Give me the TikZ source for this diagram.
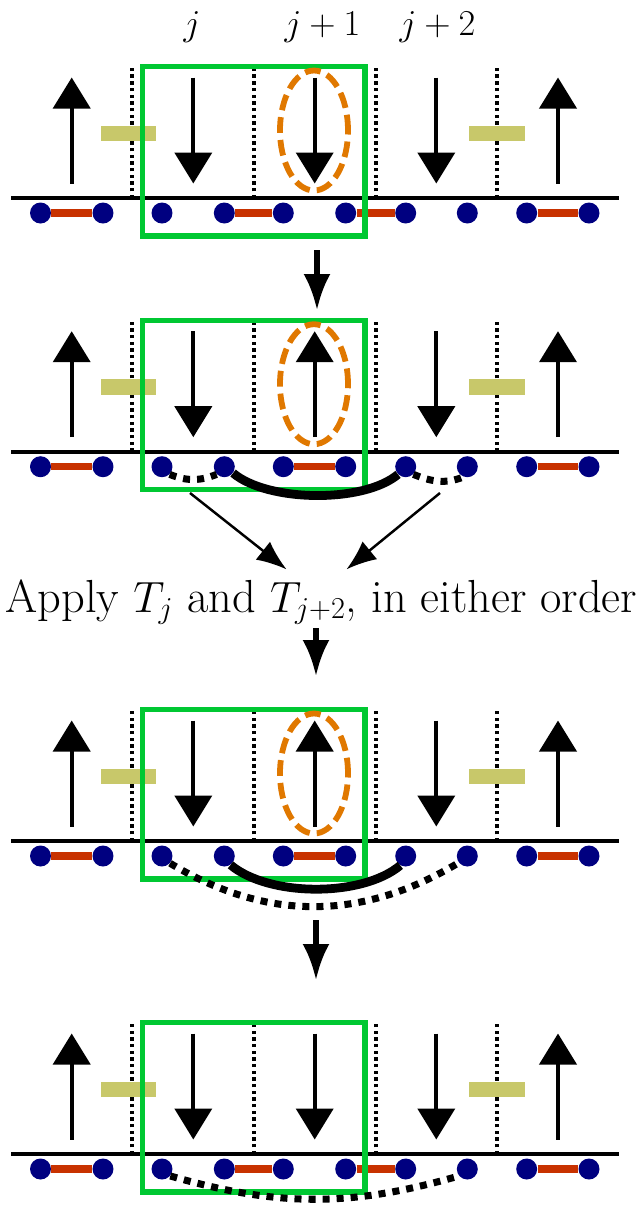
\documentclass[tikz,border=0pt]{standalone}
\usepackage{fontspec}
\usepackage{amsmath}
\usepackage{xcolor}
\usepackage{tikz}
\usetikzlibrary{arrows.meta}
\definecolor{navycol}{RGB}{0,0,128}
\definecolor{bondcol}{RGB}{200,50,0}
\definecolor{boxcol}{RGB}{0,200,50}
\definecolor{ringcol}{RGB}{224,120,0}
\definecolor{barcol}{RGB}{200,200,106}

% one row of the chain: #1 name prefix, #2 height of its line,
% #3 spin j+1 (1 up, -1 down), #4 bonded pairs of dots
\newcommand{\spinchain}[4]{%
  \begin{scope}[shift={(0,-#2)}, name prefix=#1-]
    \draw[chainline] (11,0) -- (619,0);
    \foreach \x in {132,254,375.7,497}
      \draw[sep] (\x,0) -- (\x,132);
    \fill[barcol] (100.7,56.7) rectangle (156,72.3);
    \fill[barcol] (469,56.7) rectangle (525.3,72.3);
    \foreach \x/\s in {71.7/1,193.3/-1,314.7/#3,436.3/-1,558/1}
      \draw[spin] (\x,{67.5-53*\s}) -- (\x,{67.5+53*\s});
    \foreach \x [count=\i from 0] in {40.5,103,162,224.3,283.3,345.7,405.7,467.3,526.7,589}
      \node[majo] (d\i) at (\x,-15) {};
    \foreach \a/\b in {#4}
      \draw[bond] (d\a) -- (d\b);
    \draw[gbox] (142.5,131.5) rectangle (365,-38);
  \end{scope}}

\begin{document}
\begin{tikzpicture}[x=0.02cm, y=0.02cm,
    chainline/.style={line width=2.3pt},
    sep/.style={line width=2.1pt, dash pattern=on 1.9pt off 1.9pt},
    spin/.style={line width=2.3pt, -{Triangle[length=0.62cm,width=0.74cm]}},
    majo/.style={circle, fill=navycol, inner sep=0pt, minimum size=0.42cm},
    bond/.style={draw=bondcol, line width=4.2pt},
    gbox/.style={draw=boxcol, line width=3pt},
    ring/.style={draw=ringcol, line width=3.3pt, dash pattern=on 9pt off 4pt},
    pairline/.style={line width=5pt},
    pairdot/.style={line width=4pt, dash pattern=on 4pt off 4pt},
    flow/.style={line width=3pt, -{Latex[length=0.72cm,width=0.54cm]}},
    thinflow/.style={line width=1.4pt, -{Latex[length=0.6cm,width=0.46cm]}},
    lab/.style={font=\fontsize{22}{26}\selectfont, anchor=base, inner sep=0pt}]
  \useasboundingbox (0,0) rectangle (642,-1205);

  % site labels
  \node[lab] (lj) at (192,-35) {$j$};
  \node[lab] (lj1) at (322.5,-35) {$j+1$};
  \node[lab] (lj2) at (437.5,-35) {$j+2$};

  % four stages
  \spinchain{p1}{198}{-1}{0/1,3/4,5/6,8/9}
  \draw[ring] (314,-130.5) ellipse [x radius=34, y radius=60];

  \spinchain{p2}{451.7}{1}{0/1,4/5,8/9}
  \draw[ring] (314,-384.2) ellipse [x radius=34, y radius=60];
  \draw[pairdot] (p2-d2.-45) to[out=-22,in=-158] (p2-d3.-135);
  \draw[pairline] (p2-d3.-36) to[out=-40,in=-140,looseness=0.7] (p2-d6.-135);
  \draw[pairdot] (p2-d6.-45) to[out=-22,in=-158] (p2-d7.-110);

  \node[font=\fontsize{26.4}{31}\selectfont, anchor=base, inner sep=2pt] (apply) at (321.5,-612)
    {Apply $T_j$ and $T_{j+2}$, in either order};

  \spinchain{p3}{841}{1}{0/1,4/5,8/9}
  \draw[ring] (314,-773.5) ellipse [x radius=34, y radius=60];
  \draw[pairline] (p3-d3.-55) to[out=-40,in=-140,looseness=0.75] (p3-d6.-120);
  \draw[pairdot] (p3-d2.-42) to[out=-31,in=-149] (p3-d7.-142);

  \spinchain{p4}{1154}{-1}{0/1,3/4,5/6,8/9}
  \draw[pairdot] (p4-d2.-40) to[out=-16,in=-164] (p4-d7.-140);

  % arrows between the stages
  \coordinate (p1-out) at (317,-250);
  \coordinate (p2-in) at (317,-310);
  \coordinate (p2-outl) at (190,-493);
  \coordinate (p2-outr) at (440,-493);
  \coordinate (p3-in) at (316,-676);
  \coordinate (p3-out) at (316,-920);
  \coordinate (p4-in) at (316,-980);
  \draw[flow] (p1-out) -- (p2-in);
  \draw[thinflow] (p2-outl) -- ([xshift=-0.7cm,yshift=0.12cm]apply.north);
  \draw[thinflow] (p2-outr) -- ([xshift=0.5cm,yshift=0.12cm]apply.north);
  \draw[flow] (apply.south -| p3-in) -- (p3-in);
  \draw[flow] (p3-out) -- (p4-in);
\end{tikzpicture}
\end{document}
